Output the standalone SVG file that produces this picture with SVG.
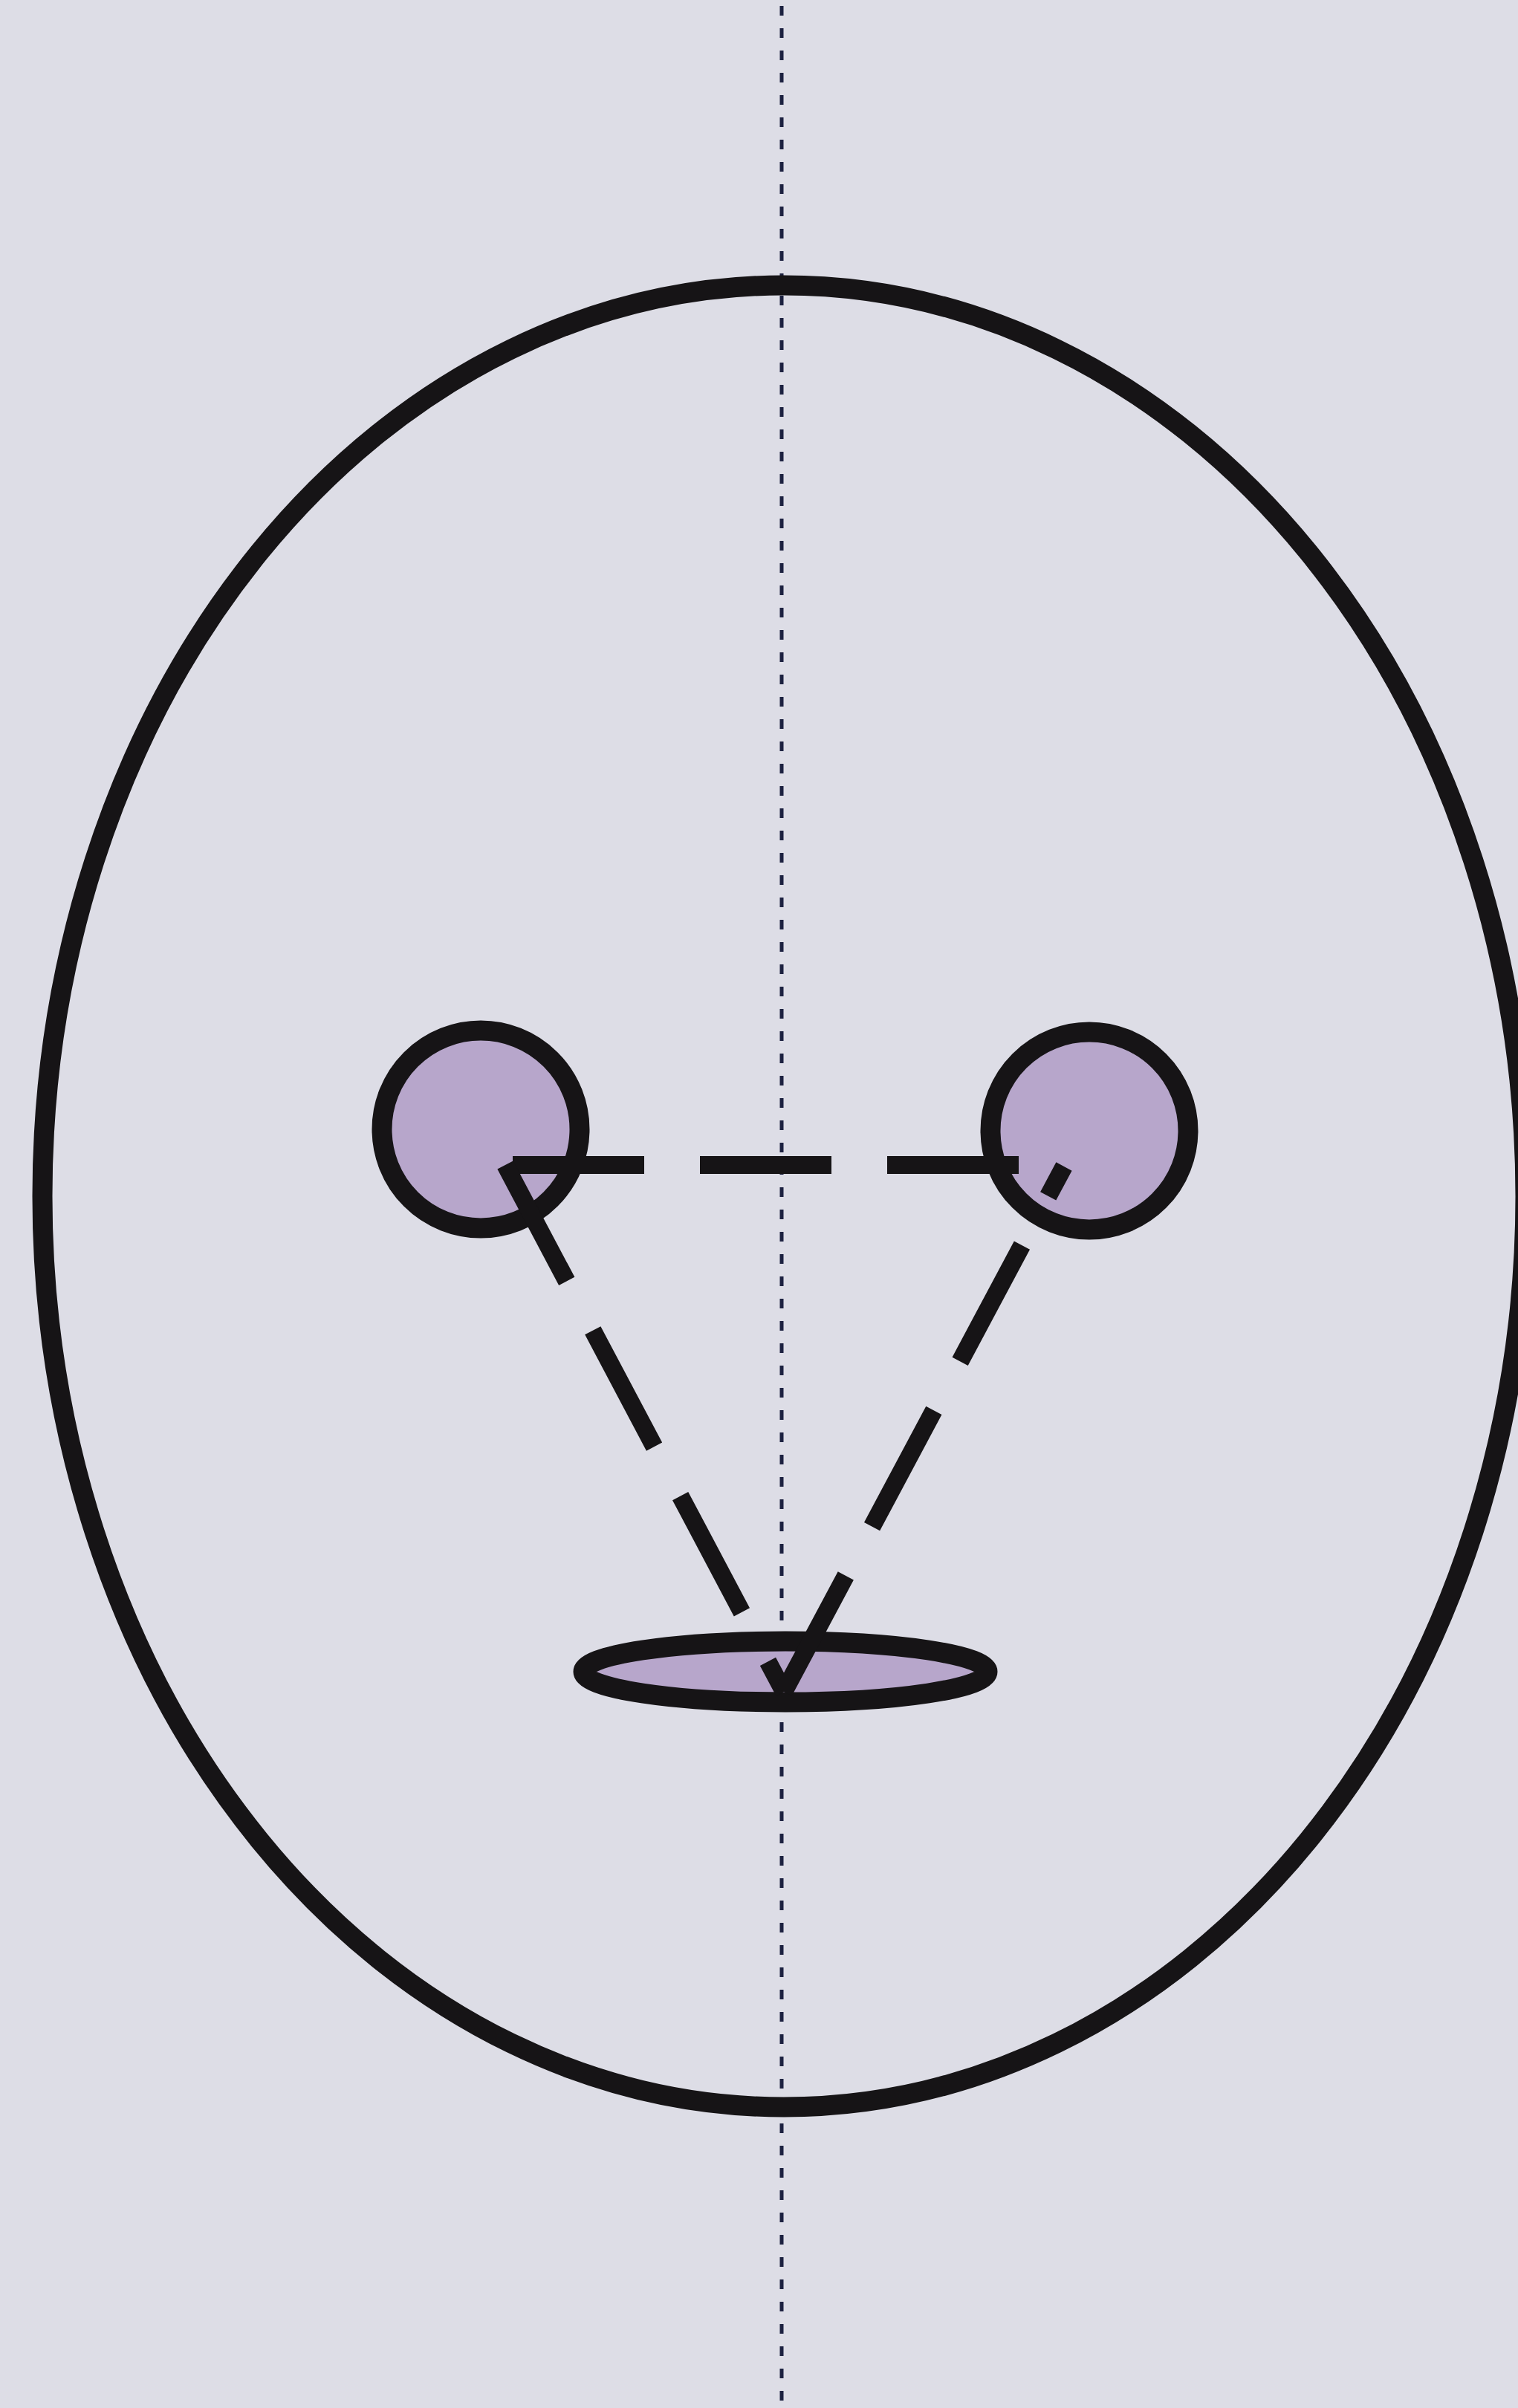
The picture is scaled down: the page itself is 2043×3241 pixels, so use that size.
<svg xmlns="http://www.w3.org/2000/svg" width="2043" height="3241" viewBox="0 0 2043 3241">
  <style>
    .outline { fill: none; stroke: #161416; stroke-width: 27; }
    .feature { fill: #b7a6cb; stroke: #161416; stroke-width: 27; }
    .dash { fill: none; stroke: #161416; stroke-width: 24; stroke-dasharray: 177 75; stroke-linecap: butt; }
    .midline { fill: none; stroke: #1c2140; stroke-width: 5; stroke-dasharray: 13 17; }
  </style>
  <rect x="0" y="0" width="2043" height="3241" fill="#dddde6"/>
  <g id="midline">
    <line class="midline" x1="1052" y1="8" x2="1052" y2="3241"/>
  </g>
  <g id="head">
    <ellipse class="outline" cx="1055" cy="1610" rx="998" ry="1226"/>
  </g>
  <g id="eye-left">
    <circle class="feature" cx="647" cy="1520" r="133"/>
  </g>
  <g id="eye-right">
    <circle class="feature" cx="1466" cy="1522" r="133"/>
  </g>
  <g id="mouth">
    <ellipse class="feature" cx="1057" cy="2250" rx="272" ry="41"/>
  </g>
  <g id="connectors">
    <line class="dash" x1="690" y1="1568" x2="1432" y2="1568"/>
    <line class="dash" x1="680" y1="1568" x2="1055" y2="2277"/>
    <line class="dash" x1="1055" y1="2277" x2="1432" y2="1570"/>
  </g>
</svg>
